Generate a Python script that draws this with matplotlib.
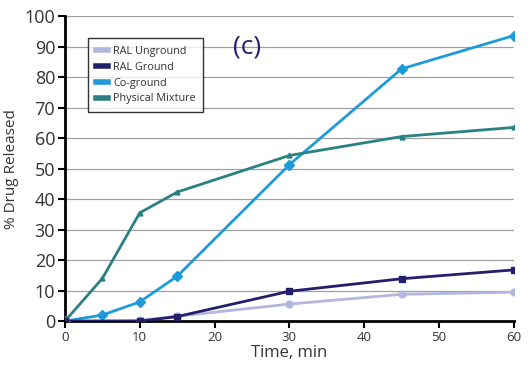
import matplotlib.pyplot as plt
from matplotlib.lines import Line2D

plt.rcParams['font.family'] = ['Open Sans', 'DejaVu Sans']

# ---- data ----
t_unground = [0, 10, 15, 30, 45, 60]
ral_unground = [0, 0.3, 1.6, 5.6, 8.8, 9.5]

t_ground = [0, 10, 15, 30, 45, 60]
ral_ground = [0, 0, 1.5, 9.8, 13.9, 16.8]

t_co = [0, 5, 10, 15, 30, 45, 60]
co_ground = [0, 2.0, 6.3, 14.7, 51.3, 82.7, 93.6]

t_pm = [0, 5, 10, 15, 30, 45, 60]
phys_mix = [0, 14.0, 35.5, 42.3, 54.3, 60.5, 63.5]

labels = ["RAL Unground", "RAL Ground", "Co-ground", "Physical Mixture"]
colors = ["#b3b7de", "#241f6b", "#1f9ad8", "#2a8082"]

fig = plt.figure(figsize=(5.32, 3.73), dpi=100)
ax = fig.add_axes([0.122, 0.139, 0.844, 0.818])

# gridlines
for y in range(10, 101, 10):
    ax.axhline(y, color="#a0a0a0", lw=0.9, zorder=0)

ax.plot(t_unground, ral_unground, color=colors[0], lw=2, marker="o", ms=5, zorder=3)
ax.plot(t_ground, ral_ground, color=colors[1], lw=2, marker="s", ms=5, zorder=4)
ax.plot(t_co, co_ground, color=colors[2], lw=2, marker="D", ms=5, zorder=3)
ax.plot(t_pm, phys_mix, color=colors[3], lw=2, marker="^", ms=3.5, zorder=3)

ax.set_xlim(0, 60)
ax.set_ylim(0, 100)
ax.set_xticks(range(0, 61, 10))
ax.set_yticks(range(0, 101, 10))
ax.spines['top'].set_visible(False)
ax.spines['right'].set_visible(False)
ax.spines['left'].set_linewidth(2)
ax.spines['bottom'].set_linewidth(2)
ax.tick_params(axis='y', labelsize=13, labelcolor="#333333", length=5, width=1.5, pad=2)
ax.tick_params(axis='x', labelsize=9.5, labelcolor="#333333", length=5, width=1.5, pad=2)
ax.set_xlabel("Time, min", fontsize=12, color="#333333", labelpad=1)
ax.set_ylabel("% Drug Released", fontsize=11, color="#333333", labelpad=4)

handles = [Line2D([0], [0], color=c, lw=4) for c in colors]
leg = ax.legend(handles, labels, loc="upper left", bbox_to_anchor=(0.04, 0.945),
                fontsize=7.8, handlelength=1.1, handletextpad=0.5,
                frameon=True, fancybox=False, borderpad=0.7, labelspacing=0.45)
leg.get_frame().set_edgecolor("black")
leg.get_frame().set_linewidth(1)
for txt in leg.get_texts():
    txt.set_color("#333333")

ax.text(0.405, 0.9, "(c)", transform=ax.transAxes, fontsize=19, color="#241f6b",
        ha="center", va="center")

fig.savefig("out.png", dpi=100)
